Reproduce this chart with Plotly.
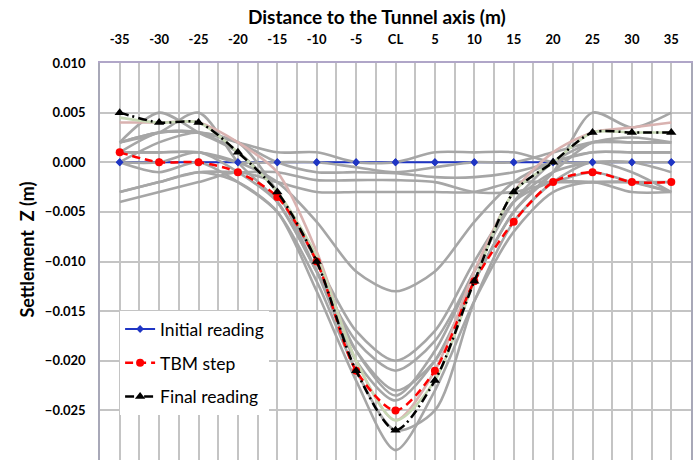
import plotly.graph_objects as go

# ---------------- data ----------------
distance = [-35, -30, -25, -20, -15, -10, -5, 0, 5, 10, 15, 20, 25, 30, 35]
tick_labels = ["-35", "-30", "-25", "-20", "-15", "-10", "-5", "CL", "5", "10", "15", "20", "25", "30", "35"]

initial_reading = [0.0] * 15
tbm_step = [0.001, 0.000, 0.000, -0.001, -0.0035, -0.010, -0.021, -0.025, -0.021, -0.012, -0.006, -0.002, -0.001, -0.002, -0.002]
final_reading = [0.005, 0.004, 0.004, 0.001, -0.003, -0.010, -0.021, -0.027, -0.022, -0.012, -0.003, 0.000, 0.003, 0.003, 0.003]
pink_reading = [0.004, 0.004, 0.004, 0.002, -0.001, -0.009, -0.020, -0.026, -0.021, -0.011, -0.003, 0.001, 0.003, 0.0035, 0.004]
green_reading = [0.0045, 0.004, 0.004, 0.001, -0.003, -0.0095, -0.020, -0.026, -0.022, -0.012, -0.003, 0.000, 0.003, 0.003, 0.003]

gray_readings = [
    [0.002, 0.003, 0.003, 0.002, 0.001, 0.001, 0.000, 0.000, 0.001, 0.001, 0.001, 0.000, 0.000, 0.000, 0.000],
    [0.001, 0.001, 0.001, 0.000, 0.000, 0.000, -0.0005, -0.001, -0.0005, 0.000, 0.000, 0.001, 0.002, 0.002, 0.002],
    [0.000, 0.002, 0.003, 0.002, 0.000, -0.001, -0.001, -0.0011, -0.0015, -0.0015, -0.001, 0.000, 0.001, 0.001, 0.001],
    [-0.003, -0.002, -0.001, -0.001, -0.001, -0.0018, -0.0018, -0.0018, -0.002, -0.003, -0.003, -0.002, -0.001, -0.002, -0.003],
    [-0.004, -0.003, -0.002, -0.001, -0.002, -0.003, -0.003, -0.003, -0.003, -0.003, -0.002, -0.002, -0.002, -0.002, -0.003],
    [0.001, 0.001, 0.001, 0.000, -0.002, -0.006, -0.011, -0.013, -0.011, -0.006, -0.002, 0.000, 0.001, 0.001, 0.001],
    [0.002, 0.003, 0.003, 0.001, -0.003, -0.010, -0.017, -0.020, -0.017, -0.010, -0.004, -0.001, 0.000, 0.000, -0.001],
    [0.000, 0.000, 0.001, -0.001, -0.004, -0.011, -0.018, -0.021, -0.018, -0.011, -0.004, -0.002, -0.002, -0.002, -0.002],
    [0.002, 0.003, 0.005, 0.000, -0.004, -0.011, -0.019, -0.023, -0.020, -0.012, -0.005, -0.001, 0.002, 0.002, 0.002],
    [0.002, 0.005, 0.003, 0.001, -0.003, -0.010, -0.019, -0.0235, -0.019, -0.011, -0.004, 0.000, 0.002, 0.0025, 0.002],
    [0.001, 0.003, 0.003, 0.002, -0.003, -0.011, -0.020, -0.024, -0.020, -0.012, -0.005, -0.001, 0.005, 0.0035, 0.005],
    [0.000, -0.001, 0.000, -0.002, -0.005, -0.012, -0.021, -0.027, -0.025, -0.014, -0.006, -0.002, 0.000, -0.001, -0.003],
    [-0.003, -0.002, -0.001, -0.002, -0.005, -0.013, -0.022, -0.029, -0.023, -0.014, -0.007, -0.003, -0.002, -0.003, -0.003],
]

y_ticks = [0.010, 0.005, 0.000, -0.005, -0.010, -0.015, -0.020, -0.025, -0.030]

# ---------------- figure ----------------
FONT = "Lato"
fig = go.Figure()

fig.add_trace(go.Scatter(
    x=distance, y=initial_reading, mode="lines+markers", name="Initial reading",
    line=dict(color="#1f35c4", width=1.8), marker=dict(symbol="diamond", size=6, color="#1f35c4"),
    legendgroup="a", legendrank=1,
))

for g in gray_readings:
    fig.add_trace(go.Scatter(
        x=distance, y=g, mode="lines", line=dict(color="#a6a6a6", width=2.6, shape="spline", smoothing=0.8),
        showlegend=False, hoverinfo="skip",
    ))

fig.add_trace(go.Scatter(
    x=distance, y=pink_reading, mode="lines", line=dict(color="#d9b2b0", width=2.6, shape="spline", smoothing=0.8),
    showlegend=False,
))
fig.add_trace(go.Scatter(
    x=distance, y=green_reading, mode="lines", line=dict(color="#c6d7b4", width=2.6, shape="spline", smoothing=0.8),
    showlegend=False,
))

fig.add_trace(go.Scatter(
    x=distance, y=initial_reading, mode="markers", showlegend=False,
    marker=dict(symbol="diamond", size=6, color="#1f35c4"),
))

fig.add_trace(go.Scatter(
    x=distance, y=tbm_step, mode="lines+markers", name="TBM step",
    line=dict(color="#ff0000", width=2.5, dash="8px,5px", shape="spline", smoothing=0.8),
    marker=dict(symbol="circle", size=8, color="#ff0000"),
    legendgroup="b", legendrank=2,
))
fig.add_trace(go.Scatter(
    x=distance, y=final_reading, mode="lines+markers", name="Final reading",
    line=dict(color="#000000", width=2.5, dash="9px,4px,2px,4px", shape="spline", smoothing=0.8),
    marker=dict(symbol="triangle-up", size=9, color="#000000"),
    legendgroup="c", legendrank=3,
))

grid_vals = [v / 2 for v in range(-70, 71, 5)]
grid_text = []
for v in grid_vals:
    if v in distance:
        grid_text.append(tick_labels[distance.index(v)])
    else:
        grid_text.append("")

fig.update_xaxes(
    range=[-37.5, 37.5], side="top", tickvals=grid_vals, ticktext=grid_text,
    showgrid=True, gridcolor="#c4c4c4", gridwidth=1.5,
    showline=True, linecolor="#b0a6c8", linewidth=1.5, mirror=True,
    ticks="", ticklabelstandoff=12, zeroline=False, automargin=False,
    tickfont=dict(family=FONT, size=13, color="#000000", weight="bold"),
)
fig.update_yaxes(
    range=[-0.030, 0.010], tickvals=y_ticks, tickformat=".3f",
    showgrid=True, gridcolor="#c4c4c4", gridwidth=1.5,
    showline=True, linecolor="#a8a8b8", linewidth=1.5, mirror=True,
    ticks="", ticklabelstandoff=10, zeroline=False, automargin=False,
    tickfont=dict(family=FONT, size=13, color="#000000", weight="bold"),
)

fig.add_annotation(
    text="<b>Distance to the Tunnel axis (m)</b>", xref="paper", yref="paper",
    x=0.469, y=1.118, showarrow=False, xanchor="center", yanchor="middle",
    font=dict(family=FONT, size=19, color="#000000"),
)
fig.add_annotation(
    text="<b>Settlement  Z (m)</b>", xref="paper", yref="paper",
    x=-0.1235, y=0.53, showarrow=False, xanchor="center", yanchor="middle", textangle=-90,
    font=dict(family=FONT, size=18, color="#000000"),
)

fig.update_layout(
    width=696, height=460,
    margin=dict(l=100, r=5, t=63, b=0),
    paper_bgcolor="white", plot_bgcolor="white",
    showlegend=True,
    legend=dict(
        x=0.034, y=0.375, xanchor="left", yanchor="top",
        bgcolor="white", borderwidth=0, tracegroupgap=8,
        font=dict(family=FONT, size=17.5, color="#000000"),
    ),
)

fig.write_html("out.html", config={"displayModeBar": False},
               post_script="document.body.style.margin='0';")
